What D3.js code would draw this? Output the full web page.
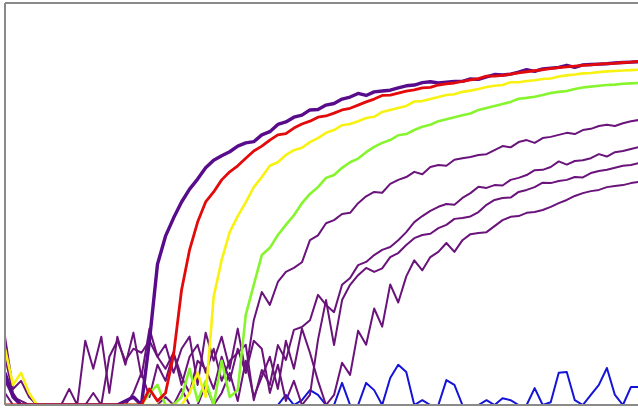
<!DOCTYPE html>
<html>
<head>
<meta charset="utf-8">
<script src="https://cdn.jsdelivr.net/npm/d3@7"></script>
<style>
	body { margin: 0; background: #ffffff; }
</style>
</head>
<body>
<div id="chart"></div>
<script>
// signal per cycle, one array per trace (cycle index = array index)
var topPurple = [8,2,0,0,0,0,0,0,0,0,0,0,0,0,0,1,2,0,
	16,35,42,46.5,50.5,53.7,56.2,59,60.9,62,63.0,64.4,65.2,65.5,67.2,68.0,69.8,70.4,71.6,72.1,73.4,73.5,74.6,75.0,76.1,76.6,77.5,77.0,77.9,78.1,78.3,78.9,79.4,79.6,80.2,80.4,80.1,80.3,80.5,80.5,81.1,81.0,81.6,82.2,82.1,82.3,82.8,83.4,83.0,83.6,83.8,84.0,84.5,84.0,84.6,84.7,84.8,84.9,85.1,85.2,85.3,85.4];

var red = [0,0,0,0,0,0,0,0,0,0,0,0,0,0,0,0,0,0,4,1,3,
	12.4,28.6,38.6,45.5,50.5,53,56.0,58,59.5,61.4,63.2,64.4,65.9,67.2,67.5,68.9,69.9,70.6,71.6,71.9,72.6,73.4,73.8,74.6,75.4,76.1,77.0,77.1,77.6,78.1,78.4,78.9,79.0,79.6,79.9,80.1,
	80.5,80.9,81.2,81.8,81.8,82.0,82.3,82.6,82.9,83.2,83.4,83.7,83.9,84.1,84.3,84.5,84.6,84.8,84.9,85.0,85.2,85.3,85.5];

var yellow = [14,5,8,3,0,0,0,0,0,0,0,0,0,0,0,0,0,0,0,0,0,0,0,3,8,2,
	26.9,36.1,43,47,50.4,54.2,56.7,59.5,60.4,62.2,63.4,64.0,65.4,66.4,67.7,68.4,69.6,69.9,70.6,71.4,71.7,72.9,73.4,73.9,74.4,75.5,75.6,76.1,76.6,77.1,77.3,77.9,78.2,78.6,79.1,79.4,79.6,80.3,80.3,80.6,80.8,81.1,81.2,81.7,82.0,82.2,82.5,82.6,82.8,83.0,83.1,83.2,83.3,83.4];

var green = [0,0,0,0,0,0,0,0,0,0,0,0,0,0,0,0,0,0,3,5,0,0,2,9,1,6,0,11,2,3.7,
	22.4,29.9,37.3,39.1,42.3,44.8,47.2,50.2,52.5,54.2,56.5,57.2,59,60.4,61.3,62.9,64.2,65.2,65.9,67.1,67.4,68.4,69.2,69.7,70.6,71.1,71.6,72.1,72.5,73.4,73.9,74.4,74.9,75.4,76.2,76.4,76.7,77.1,77.6,77.9,78.1,78.6,79.0,79.2,79.4,79.6,79.7,79.9,80.0,80.1];

var purple1 = [17,4,6,2,0,0,0,0,4,0,16,9,17,3,17,10,18,7,19,12,15,8,14,17,5,18,11,17,9,19,8,
	21.1,28.1,24.9,30.6,33.1,34.1,35.5,41,42.2,45.2,46,47.5,47.8,50.2,51.9,53,52.8,55,56,56.7,58,57.4,59.2,59.7,59.5,61.0,61.4,61.7,62.2,62.4,63.4,64.4,64.1,65.4,65.9,65.2,66.4,66.7,67.2,67.7,67.4,68.4,68.7,69.4,69.7,69.4,70.1,70.6,70.9];

var purple2 = [12,3,0,0,0,0,0,0,0,0,0,3,0,12,16,11,14,13,16,12,9,13,5,12,15,8,14,6,11,13,15,
	1.2,8.7,5.0,14.9,11.2,18.7,19.4,21.1,27.4,24.9,23.1,29.9,31.6,34.8,35.6,37.3,38.6,39.3,41.0,43.0,45.5,47.0,48.3,49.3,50.0,49.8,51.5,52.7,54.3,54.0,54.7,54.6,56.0,56.5,57.2,58.4,58.5,59.2,60.6,59.8,60.7,60.9,61.4,62.4,61.8,62.9,63.2,63.7,64.2];

var purple3 = [6,2,1,0,0,0,0,0,0,0,0,0,0,0,0,0,3,8,2,10,6,13,7,3,11,9,4,12,6,14,8,16,14,3,10,1,6,
	0,2.5,16.2,26.1,14.9,26.1,29.9,32.3,34.1,33.1,34.0,36.8,37.8,39.8,41.5,42.3,42.6,44.0,44.8,46.3,46.5,46.9,48.0,49.8,51.0,51.5,51.6,53.0,53.5,54.2,55.3,55.2,55.7,56.0,56.7,56.6,57.7,58.2,58.5,59.0,59.5,59.7,60.2];

var purple4 = [3,0,0,0,0,0,0,0,0,0,0,0,0,0,0,0,0,0,0,0,
	2,0,4,0,0,5,0,3,8,1,11,2,7,12,4,16,9,19,13,6,
	0,2.5,10.5,7.5,18.5,15.0,24.0,19.5,30.0,25.5,32.0,36.0,33.5,36.8,38.1,40.3,38.1,41.0,42.5,42.8,43.0,44.5,46.0,46.8,47.0,47.8,48.0,48.5,49.3,50.2,51.0,52.0,52.7,53.2,53.5,54.2,54.5,54.7,55.2,55.5];

var blue = [0,0,0,0,0,0,0,0,0,0,0,0,0,0,0,0,0,0,0,0,0,0,0,0,0,0,0,0,0,0,0,0,0,0,0,
	2.5,0,1.2,3.7,2.5,0,0,5.5,0,0,5.5,3.7,0,6.7,10,8.2,0,1.2,0,0,6.2,5,0,0,0,1.2,0,1.7,1.2,0,0,4.2,0,0.7,8,8.2,1.2,0,2.5,5,9.2,2.5,0,4.5,4.5];

// drawing order = back to front
var traces = [
	{name: 'blue', values: blue, color: '#1414d6', width: 2},
	{name: 'purple4', values: purple4, color: '#69137b', width: 2},
	{name: 'purple3', values: purple3, color: '#69137b', width: 2},
	{name: 'purple2', values: purple2, color: '#69137b', width: 2},
	{name: 'purple1', values: purple1, color: '#69137b', width: 2},
	{name: 'green', values: green, color: '#86f52e', width: 2.6},
	{name: 'yellow', values: yellow, color: '#f8f212', width: 2.6},
	{name: 'topPurple', values: topPurple, color: '#580c8c', width: 3.4},
	{name: 'red', values: red, color: '#e20a0a', width: 2.8}
];

//create svg canvas
var width = 638,
	height = 410,
	plotLeft = 5,
	plotTop = 3,
	plotBottom = 405;

var svg = d3.select('#chart').append('svg')
	.attr('width', width)
	.attr('height', height);

var x = d3.scaleLinear()
	.domain([0, 79])
	.range([plotLeft, 639]);

var y = d3.scaleLinear()
	.domain([0, 100])
	.range([plotBottom, plotTop]);

svg.append('clipPath')
	.attr('id', 'plot')
	.append('rect')
		.attr('x', plotLeft)
		.attr('y', plotTop)
		.attr('width', width - plotLeft)
		.attr('height', plotBottom - plotTop);

var line = d3.line()
	.x(function(d, i){ return x(i); })
	.y(function(d){ return y(d); });

//drawing traces
svg.append('g')
	.attr('clip-path', 'url(#plot)')
	.selectAll('path')
	.data(traces)
	.enter().append('path')
		.attr('d', function(d){ return line(d.values); })
		.attr('fill', 'none')
		.attr('stroke', function(d){ return d.color; })
		.attr('stroke-width', function(d){ return d.width; })
		.attr('stroke-linejoin', 'round');

//frame: left, top and bottom only (right side is cut off)
var frame = svg.append('g')
	.attr('stroke', '#8a8a8a')
	.attr('stroke-width', 2);
frame.append('line')
	.attr('x1', plotLeft).attr('x2', plotLeft)
	.attr('y1', plotTop).attr('y2', plotBottom);
frame.append('line')
	.attr('x1', plotLeft).attr('x2', width)
	.attr('y1', plotTop).attr('y2', plotTop);
frame.append('line')
	.attr('x1', plotLeft).attr('x2', width)
	.attr('y1', plotBottom).attr('y2', plotBottom);
</script>
</body>
</html>
